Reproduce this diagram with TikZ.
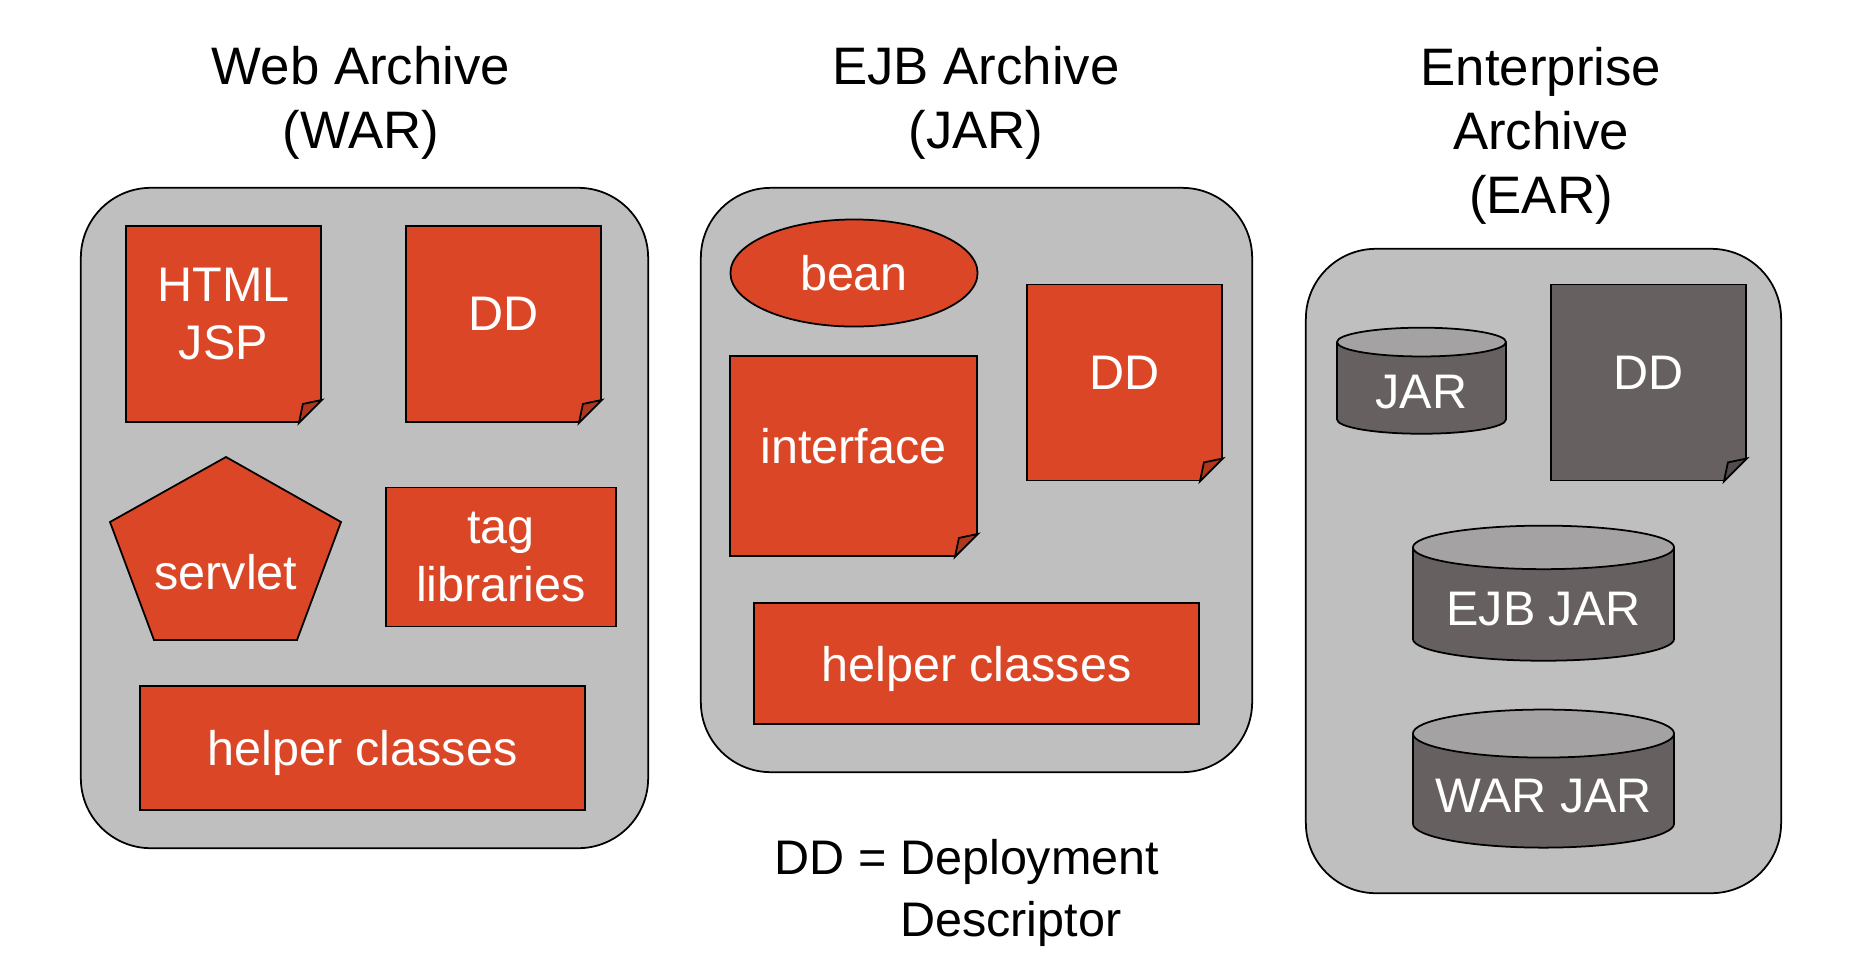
\documentclass[tikz,border=0pt]{standalone}
\usepackage{fontspec}
\setmainfont{Liberation Sans}
\usetikzlibrary{shapes.geometric}

\definecolor{brick}{RGB}{219,71,38}
\definecolor{brickfold}{RGB}{176,54,28}
\definecolor{panelgray}{RGB}{191,191,191}
\definecolor{slate}{RGB}{103,96,96}
\definecolor{slatefold}{RGB}{82,77,77}
\definecolor{lid}{RGB}{164,162,162}

% folded corner at the south east of a note
\newcommand{\dogear}[2]{%
  \fill[panelgray] ([xshift=-0.23cm]#1.south east) -- ([xshift=-0.23cm,yshift=-1pt]#1.south east)
    -- ([xshift=1pt,yshift=-1pt]#1.south east) -- ([xshift=1pt,yshift=0.23cm]#1.south east)
    -- ([yshift=0.23cm]#1.south east) -- cycle;
  \filldraw[fill=#2] ([xshift=-0.23cm]#1.south east) -- ([yshift=0.23cm]#1.south east)
    -- ([xshift=-0.19cm,yshift=0.19cm]#1.south east) -- cycle;
}

\begin{document}
\begin{tikzpicture}[x=0.01cm, y=-0.01cm, line width=0.5pt,
    panel/.style={draw, fill=panelgray, rounded corners=0.7cm},
    title/.style={align=center, font=\fontsize{15}{18.2}\selectfont},
    txt/.style={text=white, align=center, font=\fontsize{13.8}{16.7}\selectfont},
    box/.style={draw, fill=brick, txt},
    note/.style={draw, fill=#1, minimum width=1.95cm, minimum height=1.96cm},
    note/.default=brick,
    jar/.style={cylinder, shape border rotate=90, draw, cylinder uses custom fill,
      cylinder body fill=slate, cylinder end fill=lid, txt}]
  \useasboundingbox (0,0) rectangle (1862,972);

  \node[panel, minimum width=5.67cm, minimum height=6.60cm] (war) at (364.5,518) {};
  \node[panel, minimum width=5.51cm, minimum height=5.84cm] (ejb) at (976.5,480) {};
  \node[panel, minimum width=4.75cm, minimum height=6.44cm] (ear) at (1543.5,571) {};

  \node[title] (wartitle) at (361,103) {Web Archive\\(WAR)};
  \node[title] (ejbtitle) at (976,103) {EJB Archive\\(JAR)};
  \node[title] (eartitle) at (1541,136) {Enterprise\\Archive\\(EAR)};

  % web archive
  \node[note, label={[txt,yshift=1mm]center:HTML\\JSP}] (html) at (223.5,324) {};
  \dogear{html}{brickfold}
  \node[note, label={[txt,yshift=1mm]center:DD}] (wardd) at (503.5,324) {};
  \dogear{wardd}{brickfold}
  \draw[fill=brick] (226,457) -- (341,522) -- (297,640) -- (154,640) -- (110,522) -- cycle;
  \node[txt] (servlet) at (226,572) {servlet};
  \node[box, minimum width=2.30cm, minimum height=1.39cm] (taglib) at (501,557) {tag\\libraries};
  \node[box, text depth=0pt, minimum width=4.45cm, minimum height=1.24cm] (warhelper) at (362.5,748) {helper classes};

  % ejb archive
  \node[ellipse, draw, fill=brick, txt, minimum width=2.47cm, minimum height=1.07cm] (bean) at (854,273) {bean};
  \node[note, minimum width=2.47cm, minimum height=2.00cm, label={[txt,yshift=1mm]center:interface}] (iface) at (853.5,456) {};
  \dogear{iface}{brickfold}
  \node[note, label={[txt,yshift=1mm]center:DD}] (ejbdd) at (1124.5,382.5) {};
  \dogear{ejbdd}{brickfold}
  \node[box, text depth=0pt, minimum width=4.45cm, minimum height=1.21cm] (ejbhelper) at (976.5,663.5) {helper classes};

  \node[anchor=west, align=left, inner sep=0pt, font=\fontsize{13.8}{17.4}\selectfont] (ddkey) at (774,893)
    {DD = Deployment\\\phantom{DD = }Descriptor};

  % enterprise archive
  \node[jar, minimum width=1.69cm, minimum height=1.06cm, aspect=0.25] (jar) at (1421.5,392) {JAR};
  \node[note=slate, label={[txt,yshift=1mm]center:DD}] (eardd) at (1648.5,382.5) {};
  \dogear{eardd}{slatefold}
  \node[jar, minimum width=2.61cm, minimum height=1.35cm, aspect=0.2] (ejbjar) at (1543.5,609) {EJB JAR};
  \node[jar, minimum width=2.61cm, minimum height=1.38cm, aspect=0.2] (warjar) at (1543.5,796) {WAR JAR};
\end{tikzpicture}
\end{document}
